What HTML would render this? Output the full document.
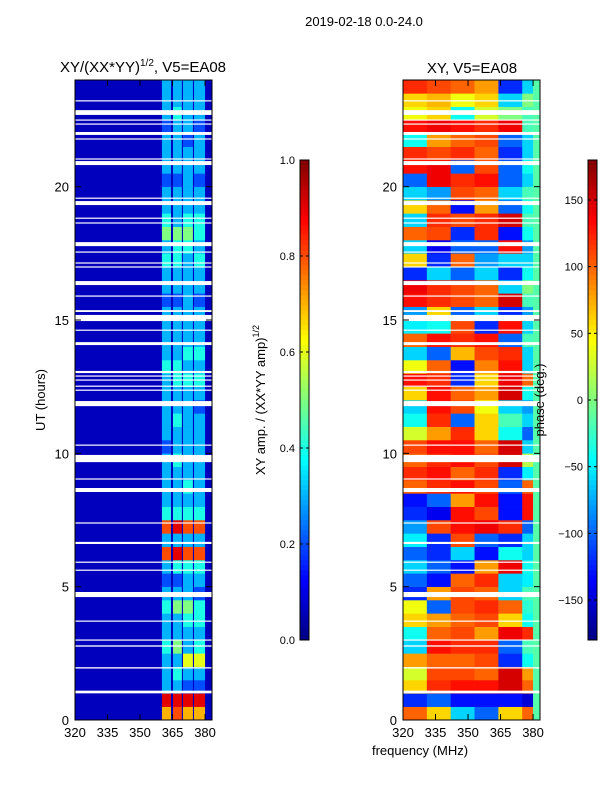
<!DOCTYPE html>
<html><head><meta charset="utf-8"><style>
body{margin:0;background:#fff;}
svg{display:block;font-family:"Liberation Sans",sans-serif;}
</style></head><body>
<svg id="fig" width="600" height="800" viewBox="0 0 600 800">
<text x="364" y="26" font-size="13" text-anchor="middle">2019-02-18 0.0-24.0</text>
<text x="143" y="72" font-size="15" text-anchor="middle">XY/(XX*YY)<tspan font-size="10" dy="-6">1/2</tspan><tspan dy="6">, V5=EA08</tspan></text>
<text x="472" y="73" font-size="15" text-anchor="middle">XY, V5=EA08</text>
<text transform="translate(45,400) rotate(-90)" font-size="13" text-anchor="middle">UT (hours)</text>
<text transform="translate(265,400) rotate(-90)" font-size="13" text-anchor="middle">XY amp. / (XX*YY amp)<tspan font-size="9" dy="-6">1/2</tspan></text>
<text x="420" y="755" font-size="13" text-anchor="middle">frequency (MHz)</text>
<g id="left"></g>
<g id="right"></g>
<text transform="translate(544,400) rotate(-90)" font-size="13" text-anchor="middle">phase (deg.)</text>
<g id="cb1"></g>
<g id="cb2"></g>
</svg>
<script>
// amplitude per 0.5h row (bottom->top), tenths, per band
const ampBand1 = "793334334323838433332333334333323343543323332333";
const ampBand2 = "893435335324939433343343344333323344533323333433";
const ampBand3 = "792363345334838434333333343433333334543333323333";
const ampBand4 = "792364344234838433333332343433323343443323332333";
const bandEdges = [[360.1,364.3],[365.2,369.3],[369.8,374.4],[374.9,380]];
const flagHours = [[1.0,1.1],[1.93,1.98],[2.75,2.8],[2.98,3.02],[3.69,3.73],[4.61,4.8],[5.6,5.64],[5.9,5.94],[6.6,6.68],[7.37,7.41],[8.55,8.7],[9.02,9.06],[9.67,9.94],[10.29,10.33],[11.77,11.96],[12.35,12.39],[12.5,12.54],[12.73,12.77],[12.88,12.92],[13.01,13.09],[14.06,14.17],[14.6,14.64],[14.96,15.19],[15.3,15.37],[15.88,15.92],[16.31,16.46],[16.97,17.01],[17.12,17.16],[17.53,17.57],[17.77,17.92],[18.62,18.66],[18.8,18.84],[19.31,19.46],[19.55,19.59],[20.81,20.96],[21.02,21.06],[21.77,21.81],[21.94,22.05],[22.33,22.37],[22.48,22.52],[22.69,22.87],[23.2,23.24]];
// phase per 0.5h row (bottom->top), 6 frequency columns
const phaseCols = [320,331,342,353,364,375,380];
const phaseRows = [
[100,60,-60,-100,60,100],[-120,-100,-130,-130,-130,-150],[60,120,130,130,150,100],[30,110,110,100,150,80],
[80,100,100,110,-120,-40],[-60,130,120,120,-100,-20],[-40,100,110,80,140,120],[60,80,100,110,60,-40],
[40,-100,110,120,100,-30],[-120,80,110,100,-60,-20],[-100,-130,100,120,-60,-50],[-60,-100,-130,80,140,-40],
[-100,-120,-60,-130,-40,-60],[-50,-120,110,-100,-120,-60],[-80,110,130,140,120,-100],[-120,-140,130,110,-130,130],
[-130,-100,80,130,-130,130],[100,120,130,110,-100,100],[120,130,100,120,-120,-50],[100,120,130,110,150,20],
[110,130,130,100,150,-60],[30,80,120,60,-40,-100],[-40,120,-100,60,-20,-60],[-60,130,110,40,-60,-80],
[60,130,100,80,150,-40],[130,120,-120,60,140,100],[40,100,-130,90,130,-60],[-60,-100,70,110,120,-60],
[100,130,120,130,-100,-20],[-50,-40,110,-120,130,-60],[-80,60,-100,-60,-120,-80],[130,120,110,100,150,-20],
[140,120,110,100,-60,0],[-120,-60,-100,-60,-120,-40],[60,-120,100,-80,-60,-60],[-60,-140,-100,-100,130,-80],
[100,110,-120,120,-130,-40],[-60,120,110,120,150,-20],[60,100,-130,80,-100,-40],[-60,-80,110,100,-60,-20],
[-100,140,120,130,-100,-60],[130,140,-100,110,-100,-40],[120,110,120,100,-120,-60],[-40,80,100,110,-100,-60],
[130,140,130,120,140,-20],[40,60,-40,30,0,-20],[60,70,40,60,-60,0],[120,110,100,80,-120,-60]];
const edgePhase = -15;
const xTicks = [320,335,350,365,380];
const yTicks = [0,5,10,15,20];
const ampTicks = [0.0,0.2,0.4,0.6,0.8,1.0];
const phaseTicks = [-150,-100,-50,0,50,100,150];

const NS="http://www.w3.org/2000/svg";
function jet(v){v=Math.max(0,Math.min(1,v));const c=t=>Math.round(255*Math.max(0,Math.min(1,1.5-Math.abs(4*v-t))));return `rgb(${c(3)},${c(2)},${c(1)})`;}
function mk(p,tag,a){const e=document.createElementNS(NS,tag);for(const k in a)e.setAttribute(k,a[k]);p.appendChild(e);return e;}
const Y0=720,Y1=80;
const yS=h=>Y0-(h/24)*(Y0-Y1);
function xScale(x0,x1){return f=>x0+(f-320)*(x1-x0)/(383.2-320);}
const xL=xScale(75,212), xR=xScale(403,540);

const L=document.getElementById('left');
let r=mk(L,'rect',{x:75,y:80,width:137,height:640,fill:jet(0.06)});


const bands=[ampBand1,ampBand2,ampBand3,ampBand4];
bands.forEach((s,b)=>{for(let i=0;i<48;i++){
  const v=+s[i]/10;
  const c=mk(L,'rect',{x:xL(bandEdges[b][0]),y:yS((i+1)/2),width:xL(bandEdges[b][1])-xL(bandEdges[b][0]),height:yS(i/2)-yS((i+1)/2)+0.3,fill:jet(v)});
  
  
}});
const R=document.getElementById('right');
for(let i=0;i<48;i++){for(let j=0;j<6;j++){
  const v=(phaseRows[i][j]+180)/360;
  const c=mk(R,'rect',{x:xR(phaseCols[j]),y:yS((i+1)/2),width:xR(phaseCols[j+1])-xR(phaseCols[j])+0.3,height:yS(i/2)-yS((i+1)/2)+0.3,fill:jet(v)});
  
  
}}
r=mk(R,'rect',{x:xR(380),y:80,width:xR(383.2)-xR(380),height:640,fill:jet((edgePhase+180)/360)});



function axes(g,x0,xs,labels){
  flagHours.forEach(f=>{const e=mk(g,'rect',{x:x0,y:yS(f[1]),width:137,height:Math.max(1.2,yS(f[0])-yS(f[1])),fill:'#fff'});
    
    });
  const fr=mk(g,'rect',{x:x0,y:80,width:137,height:640,fill:'none',stroke:'#000','stroke-width':1});
  
  
  xTicks.forEach(t=>{const x=xs(t);
    mk(g,'line',{x1:x,x2:x,y1:720,y2:714,stroke:'#000'});mk(g,'line',{x1:x,x2:x,y1:80,y2:86,stroke:'#000'});
    const tx=mk(g,'text',{x:x,y:737,'font-size':13,'text-anchor':'middle'});tx.textContent=t;
    
    });
  yTicks.forEach(t=>{const y=yS(t);
    mk(g,'line',{x1:x0,x2:x0+6,y1:y,y2:y,stroke:'#000'});mk(g,'line',{x1:x0+137,x2:x0+131,y1:y,y2:y,stroke:'#000'});
    if(labels){const tx=mk(g,'text',{x:x0-6,y:y+5,'font-size':13,'text-anchor':'end'});tx.textContent=t;
    
    }});
}
axes(L,75,xL,true);axes(R,403,xR,true);

function cbar(g,x,vals,lo,hi,fmt){
  for(let k=0;k<96;k++){mk(g,'rect',{x:x,y:640-(k+1)*5,width:9,height:5.3,fill:jet((k+0.5)/96)});}
  const f=mk(g,'rect',{x:x,y:160,width:9,height:480,fill:'none',stroke:'#000'});
  
  
  vals.forEach(v=>{const y=640-(v-lo)/(hi-lo)*480;
    mk(g,'line',{x1:x,x2:x+3,y1:y,y2:y,stroke:'#000'});mk(g,'line',{x1:x+9,x2:x+6,y1:y,y2:y,stroke:'#000'});
    const t=mk(g,'text',{x:x-5,y:y+4,'font-size':11,'text-anchor':'end'});t.textContent=fmt(v);
    
    });
}
cbar(document.getElementById('cb1'),300,ampTicks,0,1,v=>v.toFixed(1));
cbar(document.getElementById('cb2'),588,phaseTicks,-180,180,v=>v<0?'\u2212'+(-v):''+v);
</script>
</body></html>
